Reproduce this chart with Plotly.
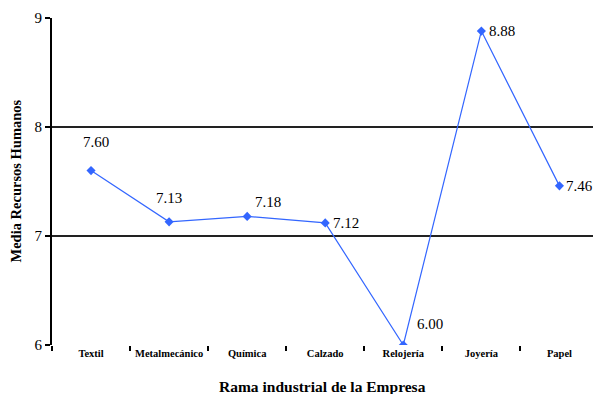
import plotly.graph_objects as go

categories = ["Textil", "Metalmecánico", "Química", "Calzado", "Relojería", "Joyería", "Papel"]
values = [7.60, 7.13, 7.18, 7.12, 6.00, 8.88, 7.46]
labels = ["7.60", "7.13", "7.18", "7.12", "6.00", "8.88", "7.46"]
label_dx = [5, 0, 21, 21, 27, 21, 20]
label_dy = [29, 24, 14, 0, 21, 0, 0]

blue = "#3366FF"
serif = "Liberation Serif"

fig = go.Figure()
fig.add_trace(go.Scatter(
    x=categories, y=values, mode="lines+markers",
    line=dict(color=blue, width=1.2),
    marker=dict(symbol="diamond", size=7, color=blue),
    hoverinfo="skip", showlegend=False,
))

annotations = []
for c, v, t, dx, dy in zip(categories, values, labels, label_dx, label_dy):
    annotations.append(dict(x=c, y=v, xref="x", yref="y", text=t, showarrow=False,
                            xshift=dx, yshift=dy, font=dict(family=serif, size=15, color="black")))

annotations.append(dict(x=0.5, y=0, xref="paper", yref="paper", yshift=-41, yanchor="middle",
                        text="<b>Rama industrial de la Empresa</b>", showarrow=False,
                        font=dict(family=serif, size=15.5, color="black")))
annotations.append(dict(x=0, y=0.5, xref="paper", yref="paper", xshift=-37, xanchor="center",
                        text="<b>Media Recursos Humanos</b>", showarrow=False, textangle=-90,
                        font=dict(family=serif, size=14.5, color="black")))

fig.update_layout(
    width=593, height=394,
    margin=dict(l=52, r=0, t=18, b=49),
    paper_bgcolor="white", plot_bgcolor="white",
    font=dict(family=serif),
    annotations=annotations,
    xaxis=dict(
        type="category", range=[-0.5, 6.43],
        showgrid=False, zeroline=False,
        tickson="boundaries", ticks="outside", ticklen=5, tickwidth=1.5, tickcolor="black",
        tickfont=dict(family=serif, size=10.5, color="black", weight="bold"),
        tickangle=0,
        showline=False,
    ),
    yaxis=dict(
        range=[6, 9], dtick=1, tick0=6,
        showgrid=True, gridcolor="#222222", gridwidth=2,
        zeroline=False,
        ticks="outside", ticklen=5, tickwidth=1.5, tickcolor="black",
        tickfont=dict(family=serif, size=15, color="black"),
        showline=True, linecolor="black", linewidth=2,
    ),
)

fig.write_html("out.html")
